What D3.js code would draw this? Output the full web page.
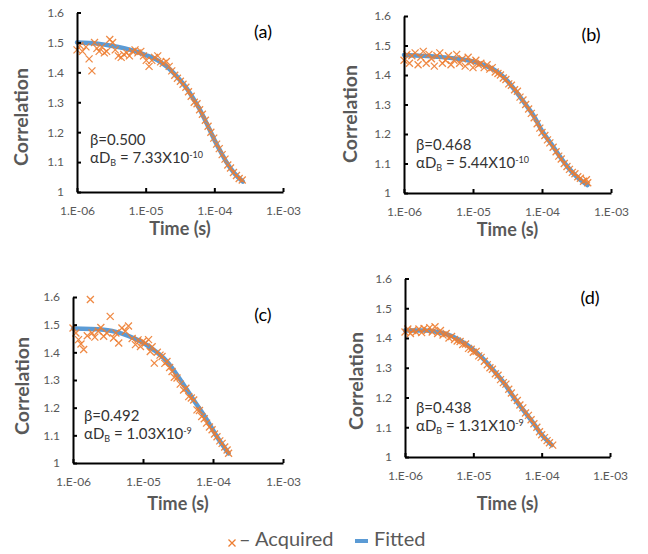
<!DOCTYPE html>
<html>
<head>
<meta charset="utf-8">
<script src="https://cdn.jsdelivr.net/npm/d3@7"></script>
<style>
  body { margin: 0; background: #fff; }
  svg { font-family: Lato, "Open Sans", sans-serif; }
</style>
</head>
<body>
<div id="viz"></div>
<script>
// chart size
const width = 648
const height = 554

// axis ticks and labels shared by the four panels
const xTicks = [1e-6, 1e-5, 1e-4, 1e-3];
const xTickLabels = ["1.E-06", "1.E-05", "1.E-04", "1.E-03"];
const yTicks = [1, 1.1, 1.2, 1.3, 1.4, 1.5, 1.6];
const yTickLabels = ["1", "1.1", "1.2", "1.3", "1.4", "1.5", "1.6"];

// panel texts
const panelNames = ["(a)", "(b)", "(c)", "(d)"];
const betaTexts = ["\u03b2=0.500", "\u03b2=0.468", "\u03b2=0.492", "\u03b2=0.438"];
const dbMantissa = ["7.33", "5.44", "1.03", "1.31"];
const dbExponent = ["-10", "-10", "-9", "-9"];
const legendLabels = ["\u2013 Acquired", "Fitted"];

// acquired data, [time (s), correlation]
const acquiredA = [
  [1.0e-6, 1.475], [1.1e-6, 1.49], [1.2e-6, 1.47], [1.35e-6, 1.485], [1.5e-6, 1.445],
  [1.65e-6, 1.405], [1.8e-6, 1.50], [1.95e-6, 1.48], [2.1e-6, 1.47], [2.3e-6, 1.485],
  [2.5e-6, 1.465], [2.7e-6, 1.47], [3.0e-6, 1.51], [3.3e-6, 1.50], [3.6e-6, 1.475],
  [4.0e-6, 1.455], [4.4e-6, 1.45], [4.8e-6, 1.46], [5.3e-6, 1.465], [5.8e-6, 1.455],
  [6.4e-6, 1.47], [7.0e-6, 1.475], [7.7e-6, 1.465], [8.5e-6, 1.47], [9.3e-6, 1.455],
  [1.02e-5, 1.44], [1.12e-5, 1.42], [1.23e-5, 1.44], [1.35e-5, 1.45], [1.5e-5, 1.455],
  [1.65e-5, 1.435], [1.8e-5, 1.43], [2.0e-5, 1.436], [2.2e-5, 1.42], [2.4e-5, 1.405],
  [2.65e-5, 1.39], [2.9e-5, 1.38], [3.2e-5, 1.37], [3.5e-5, 1.36], [3.85e-5, 1.35],
  [4.2e-5, 1.335], [4.6e-5, 1.32], [5.1e-5, 1.30], [5.6e-5, 1.295], [6.1e-5, 1.275],
  [6.7e-5, 1.26], [7.4e-5, 1.24], [8.1e-5, 1.22], [8.9e-5, 1.20], [9.8e-5, 1.18],
  [1.08e-4, 1.16], [1.18e-4, 1.145], [1.3e-4, 1.125], [1.43e-4, 1.11], [1.57e-4, 1.09],
  [1.72e-4, 1.08], [1.9e-4, 1.065], [2.1e-4, 1.055], [2.3e-4, 1.045], [2.55e-4, 1.04]
];
const fittedA = [
  [1e-6, 1.500], [2e-6, 1.496], [3e-6, 1.490], [5e-6, 1.480], [7e-6, 1.471],
  [1e-5, 1.458], [1.5e-5, 1.440], [2e-5, 1.420], [3e-5, 1.380], [4e-5, 1.345],
  [5e-5, 1.310], [6e-5, 1.280], [7e-5, 1.250], [8e-5, 1.222], [1e-4, 1.175],
  [1.2e-4, 1.140], [1.5e-4, 1.100], [2e-4, 1.060], [2.6e-4, 1.035]
];

const acquiredB = [
  [1.0e-6, 1.45], [1.1e-6, 1.47], [1.2e-6, 1.44], [1.3e-6, 1.465], [1.45e-6, 1.475],
  [1.6e-6, 1.435], [1.75e-6, 1.46], [1.9e-6, 1.48], [2.1e-6, 1.44], [2.3e-6, 1.47],
  [2.5e-6, 1.455], [2.75e-6, 1.43], [3.0e-6, 1.465], [3.3e-6, 1.475], [3.6e-6, 1.44],
  [4.0e-6, 1.45], [4.4e-6, 1.465], [4.8e-6, 1.435], [5.3e-6, 1.45], [5.8e-6, 1.47],
  [6.4e-6, 1.44], [7.0e-6, 1.455], [7.7e-6, 1.43], [8.5e-6, 1.46], [9.3e-6, 1.445],
  [1.0e-5, 1.425], [1.1e-5, 1.45], [1.2e-5, 1.435], [1.3e-5, 1.44], [1.45e-5, 1.425],
  [1.6e-5, 1.435], [1.75e-5, 1.42], [1.9e-5, 1.425], [2.1e-5, 1.41], [2.3e-5, 1.405],
  [2.5e-5, 1.40], [2.75e-5, 1.39], [3.0e-5, 1.385], [3.3e-5, 1.37], [3.6e-5, 1.365],
  [4.0e-5, 1.35], [4.4e-5, 1.345], [4.8e-5, 1.325], [5.3e-5, 1.315], [5.8e-5, 1.30],
  [6.4e-5, 1.285], [7.0e-5, 1.27], [7.7e-5, 1.255], [8.5e-5, 1.235], [9.3e-5, 1.22],
  [1.0e-4, 1.205], [1.1e-4, 1.195], [1.2e-4, 1.18], [1.3e-4, 1.17], [1.45e-4, 1.155],
  [1.6e-4, 1.14], [1.75e-4, 1.125], [1.9e-4, 1.115], [2.1e-4, 1.10], [2.3e-4, 1.09],
  [2.5e-4, 1.08], [2.75e-4, 1.07], [3.0e-4, 1.065], [3.3e-4, 1.055], [3.6e-4, 1.05],
  [4.0e-4, 1.04], [4.4e-4, 1.045], [4.6e-4, 1.035]
];
const fittedB = [
  [1e-6, 1.468], [3e-6, 1.462], [6e-6, 1.455], [1e-5, 1.446], [1.5e-5, 1.432],
  [2.26e-5, 1.411], [3e-5, 1.385], [4.4e-5, 1.338], [6e-5, 1.295], [7.7e-5, 1.259],
  [1e-4, 1.21], [1.35e-4, 1.168], [1.8e-4, 1.125], [2.34e-4, 1.089], [3.2e-4, 1.055],
  [4.57e-4, 1.027]
];

const acquiredC = [
  [1.0e-6, 1.488], [1.1e-6, 1.47], [1.2e-6, 1.446], [1.3e-6, 1.43], [1.42e-6, 1.41],
  [1.6e-6, 1.46], [1.77e-6, 1.591], [1.87e-6, 1.47], [2.05e-6, 1.455], [2.3e-6, 1.476],
  [2.5e-6, 1.49], [2.74e-6, 1.458], [3.05e-6, 1.47], [3.4e-6, 1.53], [3.8e-6, 1.452],
  [4.1e-6, 1.47], [4.5e-6, 1.434], [5.0e-6, 1.488], [5.6e-6, 1.476], [6.2e-6, 1.495],
  [7.0e-6, 1.45], [7.8e-6, 1.428], [8.5e-6, 1.445], [9.2e-6, 1.421], [1.0e-5, 1.44],
  [1.08e-5, 1.434], [1.2e-5, 1.446], [1.27e-5, 1.403], [1.35e-5, 1.42], [1.45e-5, 1.361],
  [1.6e-5, 1.40], [1.75e-5, 1.39], [1.87e-5, 1.385], [2.05e-5, 1.36], [2.2e-5, 1.367],
  [2.4e-5, 1.345], [2.6e-5, 1.331], [2.8e-5, 1.31], [3.06e-5, 1.307], [3.4e-5, 1.285],
  [3.8e-5, 1.264], [4.1e-5, 1.27], [4.5e-5, 1.24], [4.9e-5, 1.235], [5.3e-5, 1.228],
  [5.9e-5, 1.192], [6.4e-5, 1.19], [6.9e-5, 1.168], [7.5e-5, 1.16], [8.1e-5, 1.144],
  [8.9e-5, 1.13], [9.7e-5, 1.12], [1.05e-4, 1.105], [1.14e-4, 1.095], [1.25e-4, 1.08],
  [1.35e-4, 1.071], [1.47e-4, 1.058], [1.59e-4, 1.047], [1.67e-4, 1.035]
];
const fittedC = [
  [1e-6, 1.486], [2.74e-6, 1.482], [5e-6, 1.468], [8.2e-6, 1.446], [1.42e-5, 1.409],
  [2.2e-5, 1.367], [3.41e-5, 1.301], [5.28e-5, 1.228], [8.2e-5, 1.156], [1.14e-4, 1.095],
  [1.67e-4, 1.035]
];

const acquiredD = [
  [1.0e-6, 1.42], [1.1e-6, 1.43], [1.2e-6, 1.415], [1.3e-6, 1.425], [1.45e-6, 1.42],
  [1.6e-6, 1.43], [1.75e-6, 1.418], [1.9e-6, 1.432], [2.1e-6, 1.425], [2.3e-6, 1.435],
  [2.5e-6, 1.42], [2.75e-6, 1.438], [3.0e-6, 1.415], [3.3e-6, 1.425], [3.6e-6, 1.41],
  [4.0e-6, 1.415], [4.4e-6, 1.40], [4.8e-6, 1.405], [5.3e-6, 1.395], [5.8e-6, 1.39],
  [6.4e-6, 1.388], [7.0e-6, 1.378], [7.7e-6, 1.38], [8.5e-6, 1.365], [9.3e-6, 1.362],
  [1.0e-5, 1.352], [1.1e-5, 1.355], [1.2e-5, 1.34], [1.3e-5, 1.335], [1.45e-5, 1.322],
  [1.6e-5, 1.31], [1.75e-5, 1.30], [1.9e-5, 1.295], [2.1e-5, 1.28], [2.3e-5, 1.275],
  [2.5e-5, 1.26], [2.75e-5, 1.25], [3.0e-5, 1.245], [3.3e-5, 1.228], [3.6e-5, 1.215],
  [4.0e-5, 1.20], [4.4e-5, 1.19], [4.8e-5, 1.175], [5.3e-5, 1.165], [5.8e-5, 1.148],
  [6.4e-5, 1.14], [7.0e-5, 1.125], [7.7e-5, 1.112], [8.5e-5, 1.10], [9.3e-5, 1.085],
  [1.0e-4, 1.075], [1.1e-4, 1.065], [1.2e-4, 1.055], [1.3e-4, 1.048], [1.45e-4, 1.04]
];
const fittedD = [
  [1e-6, 1.425], [2e-6, 1.425], [3e-6, 1.42], [5e-6, 1.405], [8e-6, 1.378],
  [1.2e-5, 1.345], [1.96e-5, 1.292], [3e-5, 1.24], [3.86e-5, 1.202], [5.5e-5, 1.155],
  [7.6e-5, 1.113], [1e-4, 1.075], [1.41e-4, 1.04]
];

const acquiredSets = [acquiredA, acquiredB, acquiredC, acquiredD];
const fittedSets = [fittedA, fittedB, fittedC, fittedD];

// where each plot area sits on the page
const layouts = [
  {left: 77, right: 283, top: 12.5, bottom: 192, yx: 23, yy: 117, xtitle: 230, note: 90, noteY: 145},
  {left: 404, right: 611, top: 16, bottom: 193, yx: 352, yy: 114, xtitle: 231, note: 416, noteY: 150},
  {left: 73, right: 283, top: 297, bottom: 463, yx: 24, yy: 386, xtitle: 505, note: 84, noteY: 421},
  {left: 405, right: 610, top: 278.5, bottom: 457, yx: 358, yy: 381, xtitle: 505, note: 416, noteY: 413}
];

const orange = "#ED7D31";
const blue = "#5B9BD5";
const grey = "#595959";
const crossPath = "M-3.5,-3.5L3.5,3.5M-3.5,3.5L3.5,-3.5";

const svg = d3.select("#viz")
  .append("svg")
  .attr("width", width)
  .attr("height", height);

layouts.forEach(function (L, i) {
  const x = d3.scaleLog().domain([1e-6, 1e-3]).range([L.left, L.right]);
  const y = d3.scaleLinear().domain([1, 1.6]).range([L.bottom, L.top]);
  const g = svg.append("g");

  // fitted curve under the markers
  g.append("path")
    .datum(fittedSets[i])
    .attr("d", d3.line()
      .x(function (d) { return x(d[0]); })
      .y(function (d) { return y(d[1]); })
      .curve(d3.curveMonotoneX))
    .attr("fill", "none")
    .attr("stroke", blue)
    .attr("stroke-width", 4.5)
    .attr("stroke-linecap", "round");

  // acquired markers
  g.selectAll(".pt")
    .data(acquiredSets[i])
    .enter()
    .append("path")
    .attr("class", "pt")
    .attr("d", crossPath)
    .attr("transform", function (d) { return "translate(" + x(d[0]) + "," + y(d[1]) + ")"; })
    .attr("fill", "none")
    .attr("stroke", orange)
    .attr("stroke-width", 1.3)
    .attr("stroke-opacity", 0.9);

  // axes, ticks point inwards
  const xAxis = d3.axisBottom(x)
    .tickValues(xTicks)
    .tickSize(-4).tickSizeOuter(0).tickPadding(14)
    .tickFormat(function (d, k) { return xTickLabels[k]; });
  const yAxis = d3.axisLeft(y)
    .tickValues(yTicks)
    .tickSize(-4).tickSizeOuter(0).tickPadding(13)
    .tickFormat(function (d, k) { return yTickLabels[k]; });

  [g.append("g").attr("transform", "translate(0," + L.bottom + ")").call(xAxis),
   g.append("g").attr("transform", "translate(" + L.left + ",0)").call(yAxis)]
    .forEach(function (a) {
      a.select(".domain").attr("stroke", "#000").attr("stroke-width", 2);
      a.selectAll(".tick line").attr("stroke", "#000").attr("stroke-width", 2);
      a.selectAll(".tick text")
        .attr("fill", grey)
        .style("font-family", "Lato, sans-serif")
        .style("font-size", "12px");
    });

  // axis titles
  g.append("text")
    .attr("x", (L.left + L.right) / 2)
    .attr("y", L.xtitle)
    .attr("text-anchor", "middle")
    .attr("dominant-baseline", "middle")
    .attr("fill", grey)
    .attr("font-weight", "bold")
    .attr("font-size", 18)
    .text("Time (s)");

  g.append("text")
    .attr("transform", "translate(" + L.yx + "," + L.yy + ") rotate(-90)")
    .attr("text-anchor", "middle")
    .attr("dominant-baseline", "middle")
    .attr("fill", grey)
    .attr("font-weight", "bold")
    .attr("font-size", 19.5)
    .text("Correlation");

  // panel letter
  g.append("text")
    .attr("x", L.right - 20)
    .attr("y", L.top + (L.bottom - L.top) * 0.115)
    .attr("text-anchor", "middle")
    .attr("dominant-baseline", "middle")
    .attr("fill", "#000")
    .attr("font-size", 18)
    .text(panelNames[i]);

  // fit parameters
  g.append("text")
    .attr("x", L.note)
    .attr("y", L.noteY)
    .attr("fill", "#333")
    .attr("font-size", 15)
    .text(betaTexts[i]);

  const t = g.append("text")
    .attr("x", L.note)
    .attr("y", L.noteY + 18)
    .attr("fill", "#333")
    .attr("font-size", 15);
  t.append("tspan").text("\u03b1D");
  t.append("tspan").attr("font-size", 9).attr("dy", 3).text("B");
  t.append("tspan").attr("dy", -3).text(" = " + dbMantissa[i] + "X10");
  t.append("tspan").attr("font-size", 9).attr("dy", -5).text(dbExponent[i]);
});

// legend
const legend = svg.append("g");
legend.append("path")
  .attr("d", crossPath)
  .attr("transform", "translate(232,543)")
  .attr("fill", "none")
  .attr("stroke", orange)
  .attr("stroke-width", 1.3);
legend.append("text")
  .attr("x", 239).attr("y", 541)
  .attr("dominant-baseline", "middle")
  .attr("fill", grey)
  .attr("font-size", 20)
  .text(legendLabels[0]);
legend.append("line")
  .attr("x1", 355).attr("x2", 368)
  .attr("y1", 541).attr("y2", 541)
  .attr("stroke", blue)
  .attr("stroke-width", 4);
legend.append("text")
  .attr("x", 374).attr("y", 541)
  .attr("dominant-baseline", "middle")
  .attr("fill", grey)
  .attr("font-size", 20)
  .text(legendLabels[1]);
</script>
</body>
</html>
